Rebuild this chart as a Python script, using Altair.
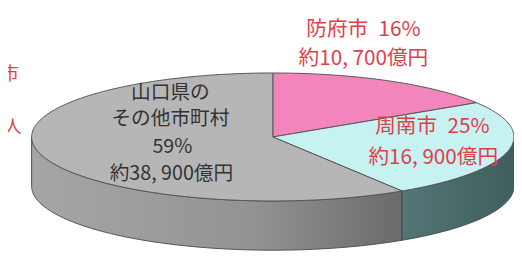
import altair as alt
import numpy as np
import pandas as pd

# ---- data ----
names = ["防府市", "周南市", "山口県のその他市町村"]
shares = [16, 25, 59]
amounts = ["約10, 700億円", "約16, 900億円", "約38, 900億円"]
top_colors = ["#f285bb", "#c6f2f2", "#b6b6b6"]

# ---- layout (pixel geometry of the 3D pie) ----
CX, CY, A, B, T = 277, 137, 245, 65, 50


def pt(t_deg, dy=0.0):
    r = np.radians(t_deg)
    return CX + A * np.sin(r), CY - B * np.cos(r) + dy


top_rows, side_rows = [], []
start = 0.0
for i, s in enumerate(shares):
    t0, t1 = start, start + s * 3.6
    start = t1
    ts = np.linspace(t0, t1, int(t1 - t0) + 2)
    k = 0
    top_rows.append(dict(slice=names[i], k=k, x=CX, y=CY)); k += 1
    for t in ts:
        x, y = pt(t)
        top_rows.append(dict(slice=names[i], k=k, x=x, y=y)); k += 1
    lo, hi = max(t0, 90), min(t1, 270)
    if lo < hi:
        ts2 = np.linspace(lo, hi, int(hi - lo) + 2)
        k = 0
        for t in ts2:
            x, y = pt(t)
            side_rows.append(dict(slice=names[i], k=k, x=x, y=y)); k += 1
        for t in ts2[::-1]:
            x, y = pt(t, T)
            side_rows.append(dict(slice=names[i], k=k, x=x, y=y)); k += 1

top_df = pd.DataFrame(top_rows)
side_df = pd.DataFrame(side_rows)

xs = alt.Scale(domain=[8, 522], nice=False, zero=False)
ys = alt.Scale(domain=[8, 263], nice=False, zero=False, reverse=True)
X = alt.X("x:Q", scale=xs, axis=None)
Y = alt.Y("y:Q", scale=ys, axis=None)

gray_side = alt.Chart(side_df[side_df.slice == names[2]]).mark_line(
    filled=True, stroke="#505050", strokeWidth=1, interpolate="linear-closed",
    fill=alt.Gradient(gradient="linear", x1=0, x2=1, y1=0, y2=0,
                      stops=[alt.GradientStop(offset=0, color="#a6a6a6"),
                             alt.GradientStop(offset=0.6, color="#939393"),
                             alt.GradientStop(offset=1, color="#6a6a6a")])
).encode(x=X, y=Y, order="k:Q")

teal_side = alt.Chart(side_df[side_df.slice == names[1]]).mark_line(
    filled=True, stroke="#404f4f", strokeWidth=1, interpolate="linear-closed",
    fill=alt.Gradient(gradient="linear", x1=0, x2=1, y1=0, y2=0,
                      stops=[alt.GradientStop(offset=0, color="#557676"),
                             alt.GradientStop(offset=1, color="#3f5e5e")])
).encode(x=X, y=Y, order="k:Q")

tops = alt.Chart(top_df).mark_line(
    filled=True, stroke="#555555", strokeWidth=1, interpolate="linear-closed"
).encode(
    x=X, y=Y, order="k:Q", detail="slice:N",
    color=alt.Color("slice:N", scale=alt.Scale(domain=names, range=top_colors), legend=None),
)

RED = "#e23e4a"
labels = pd.DataFrame([
    dict(t=f"{names[0]}\u2002{shares[0]}%", x=369, y=28, c=RED, s=21),
    dict(t=amounts[0], x=369, y=58, c=RED, s=21),
    dict(t=f"{names[1]}\u2002{shares[1]}%", x=439, y=127, c=RED, s=21),
    dict(t=amounts[1], x=440, y=158, c=RED, s=21),
    dict(t="山口県の", x=173, y=92, c="#333333", s=20),
    dict(t="その他市町村", x=173, y=119, c="#333333", s=20),
    dict(t=f"{shares[2]}%", x=175, y=147, c="#333333", s=20),
    dict(t=amounts[2], x=174, y=175, c="#333333", s=20),
])

text = alt.Chart(labels).mark_text(
    font="Noto Sans CJK JP", align="center", baseline="middle"
).encode(
    x=X, y=Y, text="t:N",
    color=alt.Color("c:N", scale=None),
    size=alt.Size("s:Q", scale=None),
)

left = pd.DataFrame([
    dict(t="下松市", x=19, y=74),
    dict(t="29", x=7, y=102),
    dict(t="約万人", x=22, y=128),
])
left_text = alt.Chart(left).mark_text(
    font="Noto Sans CJK JP", align="right", baseline="middle", fontSize=18, color=RED
).encode(x=X, y=Y, text="t:N")

chart = alt.layer(gray_side, teal_side, tops, text, left_text).properties(
    width=514, height=255, padding=0, autosize="none", background="white"
).configure_view(stroke=None)

chart.save("out.html", embed_options={"renderer": "svg", "actions": False})
